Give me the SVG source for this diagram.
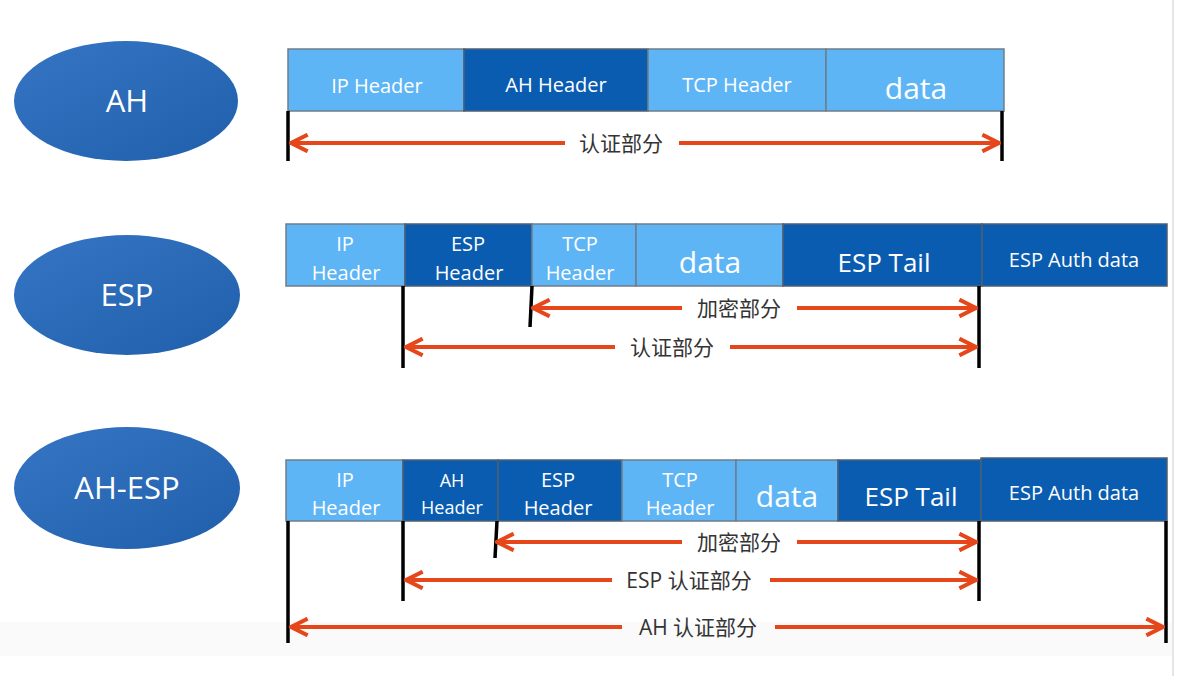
<svg xmlns="http://www.w3.org/2000/svg" width="1179" height="676" viewBox="0 0 1179 676">
<style>
.lt{fill:#5EB5F5;stroke:#6f7d8a;stroke-width:1.5}
.dk{fill:#0A5CB1;stroke:#4d5f73;stroke-width:1.5}
.bt{fill:#fff;font-family:"Open Sans","Noto Sans",sans-serif;text-anchor:middle}
.el{fill:url(#eg)}
.et{fill:#fff;font-family:"Open Sans","Noto Sans",sans-serif;font-size:31px;text-anchor:middle}
.cn{fill:#333;font-family:"Open Sans","Noto Sans CJK SC",sans-serif;font-size:21px;text-anchor:middle}
.vl{stroke:#000;stroke-width:3.5}
.ar{stroke:#E5471B;stroke-width:4;fill:none}
</style>
<defs>
<linearGradient id="eg" x1="0" y1="0" x2="1" y2="1">
<stop offset="0" stop-color="#3575C4"/>
<stop offset="1" stop-color="#1F5FAA"/>
</linearGradient>
<marker id="ah" viewBox="0 0 12 12" refX="11" refY="6" markerWidth="5" markerHeight="5" orient="auto-start-reverse" markerUnits="strokeWidth">
<path d="M1,1 L11,6 L1,11" fill="none" stroke="#E5471B" stroke-width="2.4"/>
</marker>
</defs>
<rect width="1179" height="676" fill="#fff"/>
<rect x="0" y="622" width="1172" height="34" fill="#fafafa"/>
<line x1="1173" y1="0" x2="1173" y2="676" stroke="#e6e6e6" stroke-width="2"/>

<g id="ell-ah"><ellipse class="el" cx="126" cy="101" rx="112" ry="60"/><text class="et" x="127" y="112">AH</text></g>
<g id="ell-esp"><ellipse class="el" cx="127" cy="295" rx="113" ry="60"/><text class="et" x="127" y="306">ESP</text></g>
<g id="ell-ahesp"><ellipse class="el" cx="127" cy="488" rx="113" ry="61"/><text class="et" x="127" y="499">AH-ESP</text></g>

<!-- Row 1 -->
<g id="r1-ip"><rect class="lt" x="288" y="49" width="176" height="62"/><text class="bt" x="377" y="93" font-size="20">IP Header</text></g>
<g id="r1-ah"><rect class="dk" x="464" y="49" width="184" height="62"/><text class="bt" x="556" y="92" font-size="20">AH Header</text></g>
<g id="r1-tcp"><rect class="lt" x="648" y="49" width="178" height="62"/><text class="bt" x="737" y="92" font-size="20">TCP Header</text></g>
<g id="r1-data"><rect class="lt" x="826" y="49" width="178" height="62"/><text class="bt" x="916" y="99" font-size="30">data</text></g>

<!-- Row 2 -->
<g id="r2-ip"><rect class="lt" x="286" y="224" width="119" height="62"/><text class="bt" x="345" y="251" font-size="20">IP</text><text class="bt" x="346" y="280" font-size="20">Header</text></g>
<g id="r2-esp"><rect class="dk" x="405" y="224" width="127" height="62"/><text class="bt" x="468" y="251" font-size="20">ESP</text><text class="bt" x="469" y="280" font-size="20">Header</text></g>
<g id="r2-tcp"><rect class="lt" x="532" y="224" width="104" height="62"/><text class="bt" x="580" y="251" font-size="20">TCP</text><text class="bt" x="580" y="280" font-size="20">Header</text></g>
<g id="r2-data"><rect class="lt" x="636" y="224" width="147" height="62"/><text class="bt" x="710" y="273" font-size="30">data</text></g>
<g id="r2-tail"><rect class="dk" x="783" y="224" width="199" height="62"/><text class="bt" x="884" y="272" font-size="26">ESP Tail</text></g>
<g id="r2-auth"><rect class="dk" x="982" y="224" width="185" height="62"/><text class="bt" x="1074" y="267" font-size="20">ESP Auth data</text></g>

<!-- Row 3 -->
<g id="r3-ip"><rect class="lt" x="286" y="460" width="117" height="61"/><text class="bt" x="345" y="487" font-size="20">IP</text><text class="bt" x="346" y="515" font-size="20">Header</text></g>
<g id="r3-ah"><rect class="dk" x="403" y="460" width="95" height="61"/><text class="bt" x="452" y="487" font-size="18">AH</text><text class="bt" x="452" y="514" font-size="18">Header</text></g>
<g id="r3-esp"><rect class="dk" x="498" y="460" width="124" height="61"/><text class="bt" x="558" y="487" font-size="20">ESP</text><text class="bt" x="558" y="515" font-size="20">Header</text></g>
<g id="r3-tcp"><rect class="lt" x="622" y="460" width="114" height="61"/><text class="bt" x="680" y="487" font-size="20">TCP</text><text class="bt" x="680" y="515" font-size="20">Header</text></g>
<g id="r3-data"><rect class="lt" x="736" y="460" width="102" height="61"/><text class="bt" x="787" y="507" font-size="30">data</text></g>
<g id="r3-tail"><rect class="dk" x="838" y="460" width="143" height="61"/><text class="bt" x="911" y="506" font-size="26">ESP Tail</text></g>
<g id="r3-auth"><rect class="dk" x="981" y="458" width="186" height="63"/><text class="bt" x="1074" y="500" font-size="20">ESP Auth data</text></g>

<g id="connectors">
<line class="vl" x1="288" y1="111" x2="288" y2="161"/>
<line class="vl" x1="1002" y1="111" x2="1002" y2="161"/>
<line class="ar" x1="565" y1="143" x2="291" y2="143" marker-end="url(#ah)"/>
<line class="ar" x1="679" y1="143" x2="999" y2="143" marker-end="url(#ah)"/>

<line class="vl" x1="403" y1="286" x2="403" y2="368"/>
<line class="vl" x1="532" y1="286" x2="530" y2="327"/>
<line class="vl" x1="979" y1="286" x2="979" y2="368"/>
<line class="ar" x1="682" y1="308" x2="533" y2="308" marker-end="url(#ah)"/>
<line class="ar" x1="797" y1="308" x2="976" y2="308" marker-end="url(#ah)"/>
<line class="ar" x1="615" y1="347" x2="406" y2="347" marker-end="url(#ah)"/>
<line class="ar" x1="730" y1="347" x2="976" y2="347" marker-end="url(#ah)"/>

<line class="vl" x1="288" y1="521" x2="288" y2="643"/>
<line class="vl" x1="403" y1="521" x2="403" y2="601"/>
<line class="vl" x1="497" y1="521" x2="495" y2="558"/>
<line class="vl" x1="979" y1="521" x2="979" y2="601"/>
<line class="vl" x1="1166" y1="521" x2="1166" y2="643"/>
<line class="ar" x1="682" y1="542" x2="497" y2="542" marker-end="url(#ah)"/>
<line class="ar" x1="797" y1="542" x2="976" y2="542" marker-end="url(#ah)"/>
<line class="ar" x1="612" y1="580" x2="406" y2="580" marker-end="url(#ah)"/>
<line class="ar" x1="770" y1="580" x2="976" y2="580" marker-end="url(#ah)"/>
<line class="ar" x1="622" y1="627" x2="291" y2="627" marker-end="url(#ah)"/>
<line class="ar" x1="775" y1="627" x2="1163" y2="627" marker-end="url(#ah)"/>
</g>

<g id="labels">
<text class="cn" x="621" y="151">认证部分</text>
<text class="cn" x="739" y="316">加密部分</text>
<text class="cn" x="672" y="355">认证部分</text>
<text class="cn" x="739" y="550">加密部分</text>
<text class="cn" x="689" y="588">ESP 认证部分</text>
<text class="cn" x="698" y="635">AH 认证部分</text>
</g>
</svg>
